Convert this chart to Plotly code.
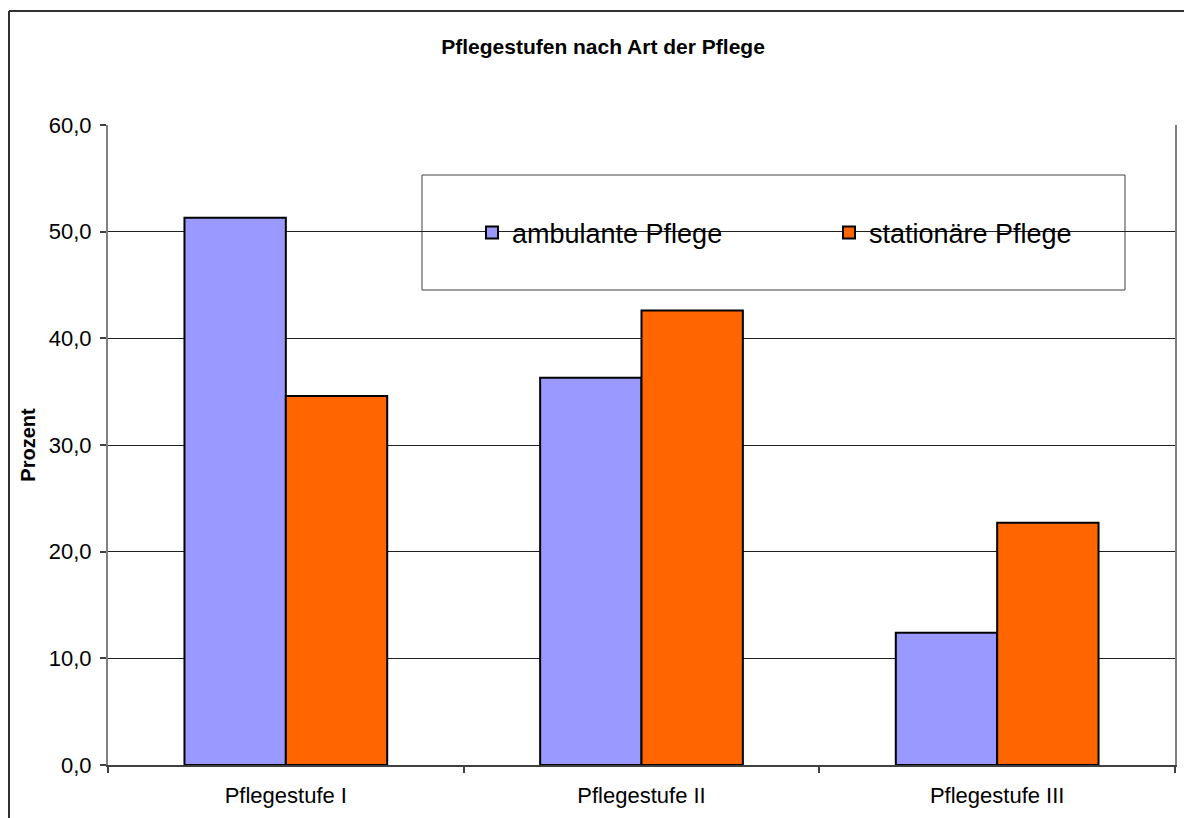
import plotly.graph_objects as go

categories = ["Pflegestufe I", "Pflegestufe II", "Pflegestufe III"]
ambulant = [51.3, 36.3, 12.4]
stationaer = [34.6, 42.6, 22.7]
series_names = ["ambulante Pflege", "stationäre Pflege"]
y_ticks = [0, 10, 20, 30, 40, 50, 60]

FONT = "Liberation Sans, Arial, sans-serif"

fig = go.Figure()
fig.add_trace(go.Bar(x=categories, y=ambulant, name=series_names[0],
                     marker=dict(color="#9999FF", line=dict(color="black", width=2))))
fig.add_trace(go.Bar(x=categories, y=stationaer, name=series_names[1],
                     marker=dict(color="#FF6600", line=dict(color="black", width=2))))

# page offset of the figure (browser body margin)
OFF = 8
PAGE_W, PAGE_H = 1192, 818
W, H = PAGE_W - OFF, PAGE_H - OFF
PL, PR, PT, PB = 108, 1175, 125, 765  # plot area in page pixels
L, R, T, B = PL - OFF, PAGE_W - PR, PT - OFF, PAGE_H - PB
pw, ph = PR - PL, PB - PT

def px_x(x):
    return (x - PL) / pw

def px_y(y):
    return (PB - y) / ph

fig.update_layout(
    width=W, height=H,
    margin=dict(l=L, r=R, t=T, b=B, autoexpand=False),
    paper_bgcolor="white", plot_bgcolor="white",
    font=dict(family=FONT, color="black", size=22),
    barmode="group", bargap=0.43, bargroupgap=0,
    separators=", ",
    title=dict(text="<b>Pflegestufen nach Art der Pflege</b>", x=(603 - OFF) / W, xref="container",
               xanchor="center", y=1 - (47 - OFF) / H, yref="container", yanchor="middle",
               font=dict(size=21, family=FONT, color="black")),
    showlegend=True,
    legend=dict(orientation="h", x=px_x(472), xanchor="left", y=px_y(233), yanchor="middle",
                bgcolor="rgba(0,0,0,0)", borderwidth=0,
                font=dict(size=27, family=FONT, color="black"),
                entrywidth=312, entrywidthmode="pixels", traceorder="normal"),
    xaxis=dict(showline=True, linecolor="#404040", linewidth=1.5, ticks="outside",
               tickson="boundaries", ticklen=6, tickcolor="#404040", tickwidth=1.5,
               ticklabelstandoff=10,
               showgrid=False, tickfont=dict(size=22, family=FONT, color="black")),
    yaxis=dict(range=[0, 60], tickvals=y_ticks, tickformat=".1f", ticks="outside",
               ticklen=6, tickcolor="#404040", tickwidth=1.5, ticklabelstandoff=4,
               showline=True, linecolor="#808080", linewidth=2, mirror=True,
               showgrid=True, gridcolor="#202020", gridwidth=1, zeroline=False,
               tickfont=dict(size=22, family=FONT, color="black"),
               title=dict(text="<b>Prozent</b>", standoff=8,
                          font=dict(size=20, family=FONT, color="black"))),
    shapes=[
        # legend box
        dict(type="rect", xref="paper", yref="paper",
             x0=px_x(422), x1=px_x(1125), y0=px_y(290), y1=px_y(175),
             line=dict(color="#404040", width=1), fillcolor="white", layer="below"),
        # outer chart frame
        dict(type="line", xref="paper", yref="paper",
             x0=px_x(9), x1=px_x(9), y0=px_y(PAGE_H + 5), y1=px_y(11),
             line=dict(color="#303030", width=2)),
        dict(type="line", xref="paper", yref="paper",
             x0=px_x(9), x1=px_x(PAGE_W + 5), y0=px_y(11), y1=px_y(11),
             line=dict(color="#303030", width=2)),
    ],
)

fig.write_html("out.html")
